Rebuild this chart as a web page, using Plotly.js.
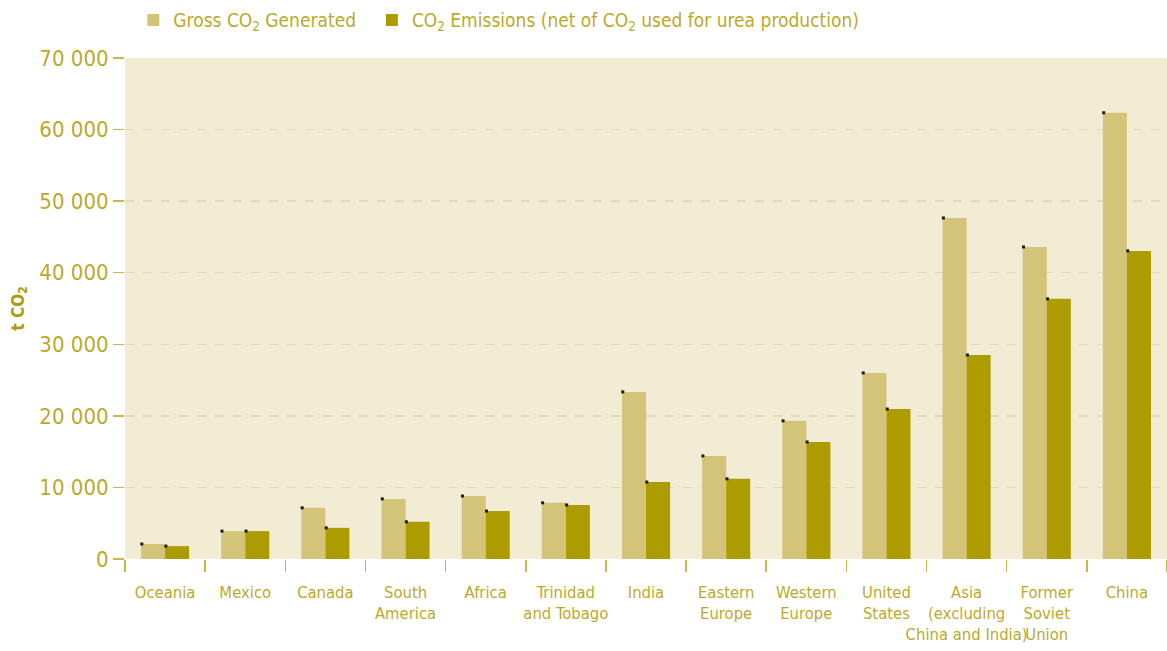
<!DOCTYPE html>
<html>
<head>
<meta charset="utf-8">
<script src="https://cdn.plot.ly/plotly-3.0.1.min.js"></script>
<style>html,body{margin:0;padding:0;background:#fff;}#chart{width:1167px;height:651px;}</style>
</head>
<body>
<div id="chart"></div>
<script>
const categories = ["Oceania", "Mexico", "Canada", "South<br>America", "Africa", "Trinidad<br>and Tobago", "India", "Eastern<br>Europe", "Western<br>Europe", "United<br>States", "Asia<br>(excluding<br>China and India)", "Former<br>Soviet<br>Union", "China"];
const grossCO2 = [2100, 3900, 7150, 8400, 8800, 7850, 23350, 14400, 19300, 26000, 47650, 43600, 62350];
const netCO2 = [1800, 3900, 4350, 5200, 6700, 7550, 10750, 11200, 16350, 20950, 28500, 36350, 43050];
const yTicks = [0, 10000, 20000, 30000, 40000, 50000, 60000, 70000];
const yTickText = ["0", "10 000", "20 000", "30 000", "40 000", "50 000", "60 000", "70 000"];

const textColor = "#bba92a";
const font = "'DejaVu Sans Condensed', 'Liberation Sans Narrow', sans-serif";

const idx = categories.map((c, i) => i);
const traces = [
  {type: "bar", name: "Gross CO<sub>2</sub> Generated\u00a0\u00a0", x: categories, y: grossCO2, marker: {color: "#d3c479"}, hoverinfo: "y"},
  {type: "bar", name: "CO<sub>2</sub> Emissions (net of CO<sub>2</sub> used for urea production)", x: categories, y: netCO2, marker: {color: "#ad9c00"}, hoverinfo: "y"},
  {type: "scatter", mode: "markers", x: idx.map(i => i - 0.29), y: grossCO2, xaxis: "x2", showlegend: false, hoverinfo: "skip", marker: {color: "#1a1a1a", size: 3, symbol: "square"}},
  {type: "scatter", mode: "markers", x: idx.map(i => i + 0.01), y: netCO2, xaxis: "x2", showlegend: false, hoverinfo: "skip", marker: {color: "#1a1a1a", size: 3, symbol: "square"}}
];

const layout = {
  width: 1167, height: 651,
  margin: {l: 125, r: 0, t: 58, b: 92},
  paper_bgcolor: "#ffffff",
  plot_bgcolor: "#f2ecd5",
  barmode: "group",
  bargap: 0.4,
  bargroupgap: 0,
  font: {family: font, color: textColor, size: 19},
  showlegend: true,
  legend: {orientation: "h", x: 0.008, xanchor: "left", y: 0.969, yanchor: "middle", yref: "container", font: {size: 19, color: textColor}, traceorder: "normal"},
  xaxis: {
    type: "category",
    tickson: "boundaries",
    tickangle: 0,
    ticks: "outside", ticklen: 12, tickwidth: 1.5, tickcolor: "#c8b84a",
    ticklabelstandoff: 21,
    showgrid: false, showline: false, zeroline: false,
    tickfont: {size: 16.5, color: textColor, family: font},
    fixedrange: true
  },
  xaxis2: {overlaying: "x", range: [-0.5, 12.5], visible: false, fixedrange: true},
  yaxis: {
    range: [0, 70000],
    tickvals: yTicks, ticktext: yTickText,
    ticks: "outside", ticklen: 11, tickwidth: 1.5, tickcolor: "#c8b84a",
    tickfont: {size: 22, color: textColor, family: font},
    showgrid: true, gridcolor: "#e6dbae", griddash: "dash", gridwidth: 1.5,
    zeroline: false, showline: false,
    title: {text: "<b>t CO<sub>2</sub></b>", font: {size: 17, color: "#ab9b10", family: font}, standoff: 10},
    fixedrange: true
  }
};

Plotly.newPlot("chart", traces, layout, {displayModeBar: false, staticPlot: true});
</script>
</body>
</html>
